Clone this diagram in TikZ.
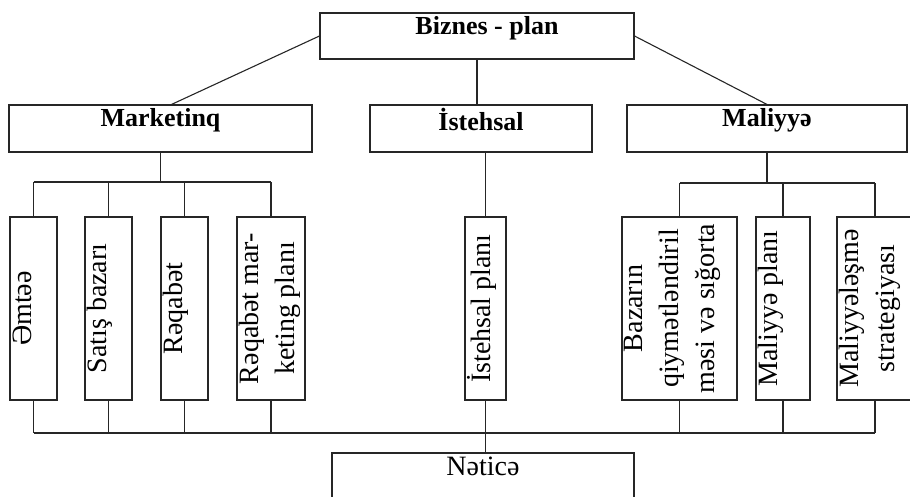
\documentclass[tikz,border=0pt]{standalone}
\usepackage{fontspec}
\setmainfont{Liberation Serif}
\tikzset{
  box/.style={draw,rectangle,inner sep=0pt},
  head/.style={anchor=north,inner sep=3.5pt,font=\bfseries\fontsize{26}{30}\selectfont},
  vtext/.style={rotate=90,anchor=north,align=center,inner sep=2.5pt,font=\fontsize{28}{36}\selectfont}
}
\begin{document}
\begin{tikzpicture}[x=1pt,y=-1pt,line width=1.1pt,draw=black!85]
\useasboundingbox (0,0) rectangle (910,497);
\clip (0,0) rectangle (910,497);
% upper level
\node[box,minimum width=314,minimum height=46](biznes) at (477,36){};
\node[head](biznest) at ([xshift=10pt]biznes.north){Biznes - plan};
\node[box,minimum width=303,minimum height=47](market) at (160.5,128.5){};
\node[head](markett) at (market.north){Marketinq};
\node[box,minimum width=222,minimum height=47](istehsal) at (481,128.5){};
\node[head](istehsalt) at (istehsal.north){İstehsal};
\node[box,minimum width=280,minimum height=47](maliyye) at (767,128.5){};
\node[head](maliyyet) at (maliyye.north){Maliyyə};
% lower level
\node[box,minimum width=47,minimum height=183](emtee) at (33.5,308.5){};
\node[vtext](emteet) at (emtee.west){Əmtəə};
\node[box,minimum width=47,minimum height=183](satis) at (108.5,308.5){};
\node[vtext](satist) at (satis.west){Satış bazarı};
\node[box,minimum width=47,minimum height=183](reqabet) at (184.5,308.5){};
\node[vtext](reqabett) at (reqabet.west){Rəqabət};
\node[box,minimum width=68,minimum height=183](rmplan) at (271,308.5){};
\node[vtext](rmplant) at (rmplan.west){Rəqabət mar-\\keting planı};
\node[box,minimum width=41,minimum height=183](iplan) at (485.5,308.5){};
\node[vtext](iplant) at (iplan.west){İstehsal planı};
\node[box,minimum width=115,minimum height=183](bazar) at (679.5,308.5){};
\node[vtext](bazart) at (bazar.west){Bazarın\\qiymətləndiril\\məsi və sığorta};
\node[box,minimum width=54,minimum height=183](mplan) at (783,308.5){};
\node[vtext](mplant) at (mplan.west){Maliyyə planı};
\node[box,minimum width=76,minimum height=183](mstrat) at (875,308.5){};
\node[vtext](mstratt) at (mstrat.west){Maliyyələşmə\\strategiyası};
\node[box,minimum width=302,minimum height=80](netice) at (483,493){};
\node[head,font=\fontsize{28}{34}\selectfont,inner sep=4pt](neticet) at (netice.north){Nəticə};
% connectors
\coordinate (mbar) at (0,182);
\coordinate (fbar) at (0,183);
\coordinate (nbar) at (0,433);
\draw (biznes.west) -- ([xshift=11pt]market.north);
\draw (biznes.east) -- (maliyye.north);
\draw (biznes.south) -- (biznes.south |- istehsal.north);
\draw (market.south) -- (market.south |- mbar);
\draw (emtee.north |- mbar) -- (rmplan.north |- mbar);
\foreach \b in {emtee,satis,reqabet,rmplan}
  \draw (\b.north) -- (\b.north |- mbar);
\draw (iplan.north |- istehsal.south) -- (iplan.north);
\draw (maliyye.south) -- (maliyye.south |- fbar);
\draw (bazar.north |- fbar) -- (mstrat.north |- fbar);
\foreach \b in {bazar,mplan,mstrat}
  \draw (\b.north) -- (\b.north |- fbar);
\foreach \b in {emtee,satis,reqabet,rmplan,iplan,bazar,mplan,mstrat}
  \draw (\b.south) -- (\b.south |- nbar);
\draw (emtee.south |- nbar) -- (mstrat.south |- nbar);
\draw (iplan.south |- nbar) -- (iplan.south |- netice.north);
\end{tikzpicture}
\end{document}
